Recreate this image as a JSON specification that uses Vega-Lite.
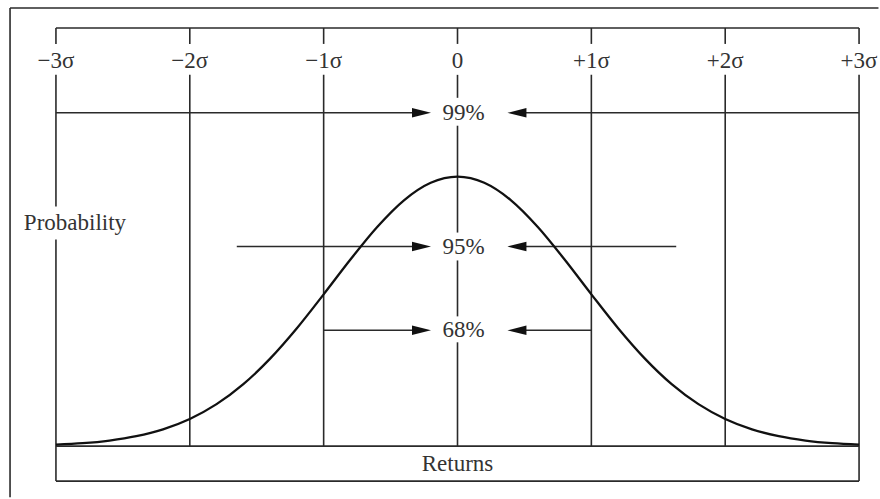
{
  "$schema": "https://vega.github.io/schema/vega-lite/v6.json",
  "width": 880,
  "height": 499,
  "padding": 0,
  "autosize": {"type": "fit", "contains": "padding"},
  "background": "white",
  "config": {"view": {"stroke": null}, "axis": {"disable": true}},
  "datasets": {
    "curve": [
      {"ret": -3.0, "prob": 0.0023}, {"ret": -2.8, "prob": 0.0044}, {"ret": -2.6, "prob": 0.0083},
      {"ret": -2.4, "prob": 0.0147}, {"ret": -2.2, "prob": 0.0249}, {"ret": -2.0, "prob": 0.0403},
      {"ret": -1.8, "prob": 0.0623}, {"ret": -1.6, "prob": 0.0920}, {"ret": -1.4, "prob": 0.1299},
      {"ret": -1.2, "prob": 0.1750}, {"ret": -1.0, "prob": 0.2253}, {"ret": -0.8, "prob": 0.2770},
      {"ret": -0.6, "prob": 0.3253}, {"ret": -0.4, "prob": 0.3649}, {"ret": -0.2, "prob": 0.3909},
      {"ret": 0.0, "prob": 0.4000}, {"ret": 0.2, "prob": 0.3909}, {"ret": 0.4, "prob": 0.3649},
      {"ret": 0.6, "prob": 0.3253}, {"ret": 0.8, "prob": 0.2770}, {"ret": 1.0, "prob": 0.2253},
      {"ret": 1.2, "prob": 0.1750}, {"ret": 1.4, "prob": 0.1299}, {"ret": 1.6, "prob": 0.0920},
      {"ret": 1.8, "prob": 0.0623}, {"ret": 2.0, "prob": 0.0403}, {"ret": 2.2, "prob": 0.0249},
      {"ret": 2.4, "prob": 0.0147}, {"ret": 2.6, "prob": 0.0083}, {"ret": 2.8, "prob": 0.0044},
      {"ret": 3.0, "prob": 0.0023}
    ],
    "vsegs": [
      {"sx": -3.343, "top": 0.6504, "bot": -0.076},
      {"sx": -3, "top": 0.6207, "bot": 0.5970}, {"sx": -3, "top": 0.5511, "bot": 0.3556}, {"sx": -3, "top": 0.3067, "bot": -0.0519},
      {"sx": -2, "top": 0.6207, "bot": 0.5970}, {"sx": -2, "top": 0.5511, "bot": 0},
      {"sx": -1, "top": 0.6207, "bot": 0.5970}, {"sx": -1, "top": 0.5511, "bot": 0},
      {"sx": 0, "top": 0.6207, "bot": 0.5970}, {"sx": 0, "top": 0.5511, "bot": 0.5170},
      {"sx": 0, "top": 0.4756, "bot": 0.3170}, {"sx": 0, "top": 0.2756, "bot": 0.1926}, {"sx": 0, "top": 0.1541, "bot": 0},
      {"sx": 1, "top": 0.6207, "bot": 0.5970}, {"sx": 1, "top": 0.5511, "bot": 0},
      {"sx": 2, "top": 0.6207, "bot": 0.5970}, {"sx": 2, "top": 0.5511, "bot": 0},
      {"sx": 3, "top": 0.6207, "bot": 0.5970}, {"sx": 3, "top": 0.5511, "bot": -0.0519}
    ],
    "hsegs": [
      {"x1": -3.343, "x2": 3.145, "lvl": 0.6504},
      {"x1": -3, "x2": 3, "lvl": 0.6207},
      {"x1": -3, "x2": -0.27, "lvl": 0.4948}, {"x1": 0.44, "x2": 3, "lvl": 0.4948},
      {"x1": -1.649, "x2": -0.27, "lvl": 0.2963}, {"x1": 0.44, "x2": 1.634, "lvl": 0.2963},
      {"x1": -1, "x2": -0.27, "lvl": 0.1719}, {"x1": 0.44, "x2": 1, "lvl": 0.1719},
      {"x1": -3, "x2": 3, "lvl": 0},
      {"x1": -3, "x2": 3, "lvl": -0.0519}
    ],
    "arrows": [
      {"ax": -0.269, "lvl": 0.4948, "dir": "right"}, {"ax": 0.444, "lvl": 0.4948, "dir": "left"},
      {"ax": -0.269, "lvl": 0.2963, "dir": "right"}, {"ax": 0.444, "lvl": 0.2963, "dir": "left"},
      {"ax": -0.269, "lvl": 0.1719, "dir": "right"}, {"ax": 0.444, "lvl": 0.1719, "dir": "left"}
    ],
    "sigmas": [
      {"lx": -3, "ly": 0.5719, "txt": "−3σ"}, {"lx": -2, "ly": 0.5719, "txt": "−2σ"},
      {"lx": -1, "ly": 0.5719, "txt": "−1σ"}, {"lx": 0, "ly": 0.5719, "txt": "0"},
      {"lx": 1, "ly": 0.5719, "txt": "+1σ"}, {"lx": 2, "ly": 0.5719, "txt": "+2σ"},
      {"lx": 3, "ly": 0.5719, "txt": "+3σ"},
      {"lx": -2.858, "ly": 0.3319, "txt": "Probability"},
      {"lx": 0, "ly": -0.0267, "txt": "Returns"}
    ],
    "pcts": [
      {"lx": 0, "ly": 0.4948, "txt": "99%"},
      {"lx": 0, "ly": 0.2963, "txt": "95%"},
      {"lx": 0, "ly": 0.1719, "txt": "68%"}
    ]
  },
  "layer": [
    {
      "data": {"name": "vsegs"},
      "mark": {"type": "rule", "color": "#2a2a2a", "strokeWidth": 1.6},
      "encoding": {
        "x": {"field": "sx", "type": "quantitative", "scale": {"domain": [-3.418, 3.149], "nice": false, "zero": false}},
        "y": {"field": "top", "type": "quantitative", "scale": {"domain": [-0.077, 0.6622], "nice": false, "zero": false}},
        "y2": {"field": "bot"}
      }
    },
    {
      "data": {"name": "hsegs"},
      "mark": {"type": "rule", "color": "#2a2a2a", "strokeWidth": 1.6},
      "encoding": {
        "x": {"field": "x1", "type": "quantitative"},
        "x2": {"field": "x2"},
        "y": {"field": "lvl", "type": "quantitative"}
      }
    },
    {
      "data": {"name": "curve"},
      "mark": {"type": "line", "color": "#111", "strokeWidth": 2.3, "interpolate": "monotone"},
      "encoding": {
        "x": {"field": "ret", "type": "quantitative"},
        "y": {"field": "prob", "type": "quantitative"}
      }
    },
    {
      "data": {"name": "arrows"},
      "mark": {"type": "point", "filled": true, "color": "#111", "opacity": 1, "size": 361},
      "encoding": {
        "x": {"field": "ax", "type": "quantitative"},
        "y": {"field": "lvl", "type": "quantitative"},
        "shape": {"field": "dir", "type": "nominal", "legend": null,
          "scale": {"domain": ["right", "left"], "range": ["M-1,-0.5L1,0L-1,0.5Z", "M1,-0.5L-1,0L1,0.5Z"]}}
      }
    },
    {
      "data": {"name": "sigmas"},
      "mark": {"type": "text", "font": "Liberation Serif", "fontSize": 23, "color": "#333", "align": "center", "baseline": "middle"},
      "encoding": {
        "x": {"field": "lx", "type": "quantitative"},
        "y": {"field": "ly", "type": "quantitative"},
        "text": {"field": "txt"}
      }
    },
    {
      "data": {"name": "pcts"},
      "mark": {"type": "text", "font": "Liberation Serif", "fontSize": 23, "color": "#333", "align": "center", "baseline": "middle", "dx": 6},
      "encoding": {
        "x": {"field": "lx", "type": "quantitative"},
        "y": {"field": "ly", "type": "quantitative"},
        "text": {"field": "txt"}
      }
    }
  ]
}
